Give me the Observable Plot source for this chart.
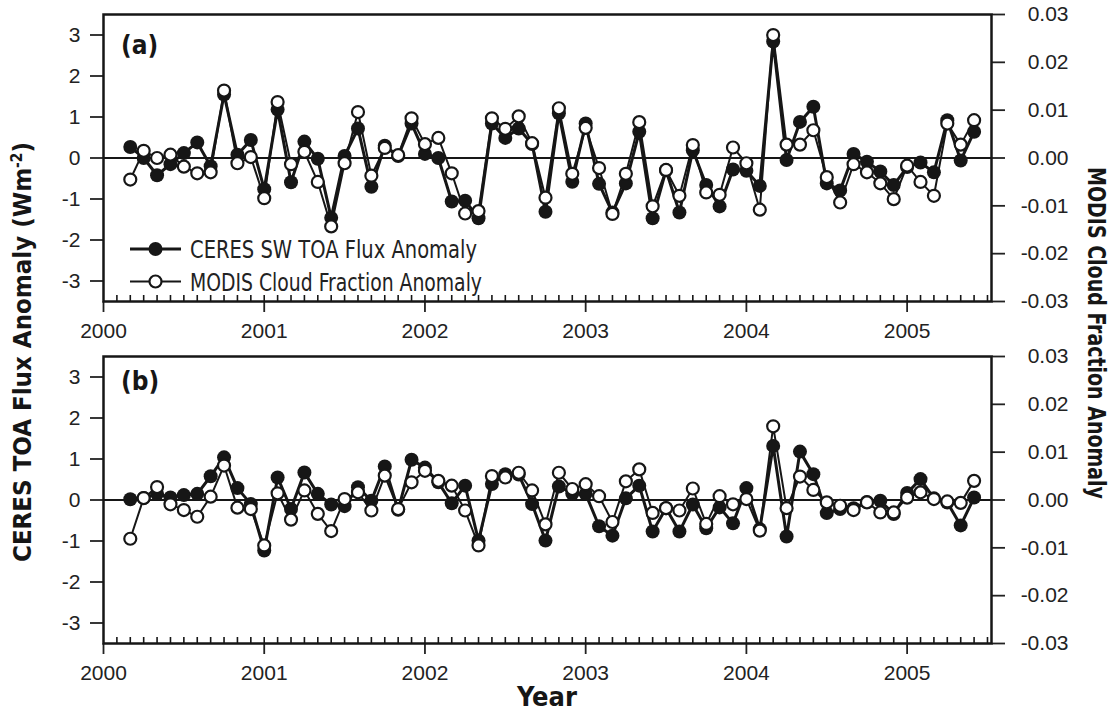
<!DOCTYPE html>
<html><head><meta charset="utf-8">
<script src="https://cdn.jsdelivr.net/npm/d3@7"></script>
<script src="https://cdn.jsdelivr.net/npm/@observablehq/plot@0.6"></script>
<style>
body{margin:0;background:#fff;}
#fig{position:relative;width:1117px;height:715px;overflow:hidden;background:#fff;}
#fig svg{position:absolute;left:0;overflow:visible;}
.cond{font-family:"Liberation Sans Narrow","DejaVu Sans Condensed","DejaVu Sans",sans-serif;font-stretch:condensed;}
</style></head><body><div id="fig"></div>
<script>
// ---- data ----
const startYear = 2000, startMonth = 3, nMonths = 64; // Mar 2000 .. Jun 2005
const yearTicks = [2000, 2001, 2002, 2003, 2004, 2005];
const fluxTicks = [-3, -2, -1, 0, 1, 2, 3];
const cloudTicks = [-0.03, -0.02, -0.01, 0, 0.01, 0.02, 0.03];
const seriesNames = ["CERES SW TOA Flux Anomaly", "MODIS Cloud Fraction Anomaly"];
const panelLabels = ["(a)", "(b)"];

// Panel (a): CERES SW TOA flux anomaly (W m-2)
const ceresA = [0.27,0.00,-0.42,-0.15,0.12,0.38,-0.20,1.55,0.08,0.44,
  -0.76,1.18,-0.59,0.40,-0.02,-1.46,0.05,0.72,-0.70,0.30,
  0.05,0.84,0.10,0.00,-1.06,-1.04,-1.47,0.84,0.49,0.72,
  0.34,-1.31,1.09,-0.58,0.84,-0.63,-1.33,-0.62,0.64,-1.47,
  -0.30,-1.33,0.19,-0.66,-1.18,-0.28,-0.31,-0.68,2.84,-0.05,
  0.88,1.25,-0.62,-0.79,0.10,-0.09,-0.33,-0.66,-0.22,-0.11,
  -0.35,0.92,-0.06,0.64];
// Panel (a): MODIS cloud fraction anomaly
const modisA = [-0.0045,0.0015,0.0000,0.0007,-0.0018,-0.0032,-0.0030,0.0141,-0.0011,0.0002,
  -0.0084,0.0117,-0.0013,0.0013,-0.0050,-0.0143,-0.0011,0.0096,-0.0037,0.0021,
  0.0006,0.0083,0.0029,0.0042,-0.0032,-0.0116,-0.0111,0.0083,0.0061,0.0087,
  0.0031,-0.0083,0.0104,-0.0033,0.0063,-0.0021,-0.0117,-0.0033,0.0075,-0.0101,
  -0.0025,-0.0079,0.0027,-0.0072,-0.0077,0.0022,-0.0011,-0.0108,0.0257,0.0028,
  0.0028,0.0058,-0.0040,-0.0093,-0.0013,-0.0030,-0.0053,-0.0086,-0.0016,-0.0050,
  -0.0079,0.0072,0.0028,0.0079];
// Panel (b): CERES TOA flux anomaly (W m-2)
const ceresB = [0.02,0.05,0.15,0.06,0.12,0.15,0.58,1.04,0.29,-0.10,
  -1.23,0.55,-0.22,0.67,0.15,-0.11,-0.15,0.31,-0.02,0.82,
  -0.24,0.98,0.79,0.43,-0.08,0.35,-0.99,0.39,0.63,0.62,
  -0.10,-0.99,0.33,0.16,0.15,-0.64,-0.87,0.04,0.35,-0.77,
  -0.20,-0.77,-0.11,-0.69,-0.18,-0.57,0.29,-0.71,1.32,-0.89,
  1.18,0.63,-0.32,-0.22,-0.20,-0.05,-0.02,-0.34,0.17,0.51,
  0.04,-0.06,-0.62,0.06];
// Panel (b): MODIS cloud fraction anomaly
const modisB = [-0.0081,0.0004,0.0027,-0.0009,-0.0021,-0.0035,0.0007,0.0072,-0.0016,-0.0019,
  -0.0095,0.0014,-0.0041,0.0020,-0.0029,-0.0065,0.0002,0.0016,-0.0022,0.0051,
  -0.0019,0.0037,0.0061,0.0040,0.0030,-0.0022,-0.0095,0.0050,0.0047,0.0057,
  0.0020,-0.0051,0.0057,0.0023,0.0033,0.0008,-0.0046,0.0039,0.0064,-0.0027,
  -0.0017,-0.0022,0.0024,-0.0050,0.0008,-0.0009,0.0002,-0.0064,0.0154,-0.0017,
  0.0049,0.0021,-0.0005,-0.0012,-0.0021,-0.0005,-0.0026,-0.0026,0.0005,0.0016,
  0.0002,-0.0003,-0.0006,0.0040];

// ---- layout ----
const months = d3.range(nMonths).map(i => startYear + (startMonth - 1 + i) / 12);
const minorTicks = d3.range(1, 67).map(m => 2000 + m / 12);
const fluxMax = 3.5, cloudMax = 0.03;
const K = fluxMax / cloudMax; // cloud fraction -> left-axis units
const innerH = 287;
const ink = "#161616";
const fmtFlux = d => (d < 0 ? "-" : "") + Math.abs(d);
const fmtCF = d => { const r = Math.round(d * 100) / 100; return (r < 0 ? "-" : "") + Math.abs(r).toFixed(2); };

function panel(ceres, modis) {
  const rows = months.map((t, i) => ({t, ceres: ceres[i], modis: modis[i] * K}));
  return Plot.plot({
    width: 1117, height: 14 + innerH + 48,
    marginLeft: 103, marginRight: 126, marginTop: 14, marginBottom: 48,
    style: {background: "transparent", fontFamily: "'Liberation Sans', Arial, sans-serif", color: "#222", overflow: "visible"},
    x: {domain: [2000, 2005.525], label: null},
    y: {domain: [-fluxMax, fluxMax], label: null},
    marks: [
      Plot.ruleY([0], {stroke: ink, strokeWidth: 2}),
      Plot.ruleX(minorTicks, {x: d => d, insetTop: innerH - 6, stroke: ink, strokeWidth: 1.6}),
      Plot.line(rows, {x: "t", y: "ceres", stroke: ink, strokeWidth: 3}),
      Plot.line(rows, {x: "t", y: "modis", stroke: ink, strokeWidth: 2}),
      Plot.dot(rows, {x: "t", y: "ceres", r: 7, fill: ink, stroke: "none"}),
      Plot.dot(rows, {x: "t", y: "modis", r: 6, fill: "white", stroke: ink, strokeWidth: 2.2}),
      Plot.axisX({ticks: yearTicks, tickFormat: d => String(d), tickSize: 11, tickPadding: 11, fontSize: 21, strokeWidth: 1.8, label: null}),
      Plot.axisY({ticks: fluxTicks, tickFormat: fmtFlux, tickSize: 13, tickPadding: 10, fontSize: 21, strokeWidth: 1.8, label: null}),
      Plot.axisY({anchor: "right", ticks: cloudTicks.map(c => c * K), tickFormat: d => fmtCF(d / K), tickSize: 13, tickPadding: 64, textAnchor: "end", fontSize: 21, strokeWidth: 1.8, label: null}),
      Plot.frame({stroke: ink, strokeWidth: 2.5})
    ]
  });
}

const fig = d3.select("#fig");
const pa = panel(ceresA, modisA); pa.style.top = "0px"; fig.node().appendChild(pa);
const pb = panel(ceresB, modisB); pb.style.top = "342px"; fig.node().appendChild(pb);

// ---- overlay: titles, panel labels, legend ----
const ov = fig.append("svg").attr("width", 1117).attr("height", 715).style("top", "0px").style("pointer-events", "none");
const boldText = (sel) => sel.attr("class", "cond").attr("font-weight", "bold").attr("fill", ink);

boldText(ov.append("text")).attr("x", 121).attr("y", 54).attr("font-size", 26).text(panelLabels[0]);
boldText(ov.append("text")).attr("x", 121).attr("y", 390).attr("font-size", 26).text(panelLabels[1]);

const lt = boldText(ov.append("text")).attr("transform", "translate(31,352) rotate(-90)")
  .attr("text-anchor", "middle").attr("font-size", 25)
  .attr("textLength", 420).attr("lengthAdjust", "spacingAndGlyphs");
lt.append("tspan").text("CERES TOA Flux Anomaly (Wm");
lt.append("tspan").attr("font-size", 15).attr("dy", -9).text("-2");
lt.append("tspan").attr("dy", 9).text(")");

boldText(ov.append("text")).attr("transform", "translate(1088,333) rotate(90)")
  .attr("text-anchor", "middle").attr("font-size", 25)
  .attr("textLength", 332).attr("lengthAdjust", "spacingAndGlyphs")
  .text("MODIS Cloud Fraction Anomaly");

boldText(ov.append("text")).attr("x", 547).attr("y", 706).attr("text-anchor", "middle").attr("font-size", 27).text("Year");

// legend
const lg = [{y: 249, filled: true, w: 3, len: 287}, {y: 281.5, filled: false, w: 2, len: 292}];
lg.forEach((d, i) => {
  ov.append("line").attr("x1", 130).attr("x2", 181).attr("y1", d.y).attr("y2", d.y).attr("stroke", ink).attr("stroke-width", d.w);
  ov.append("circle").attr("cx", 155.5).attr("cy", d.y).attr("r", d.filled ? 7 : 6)
    .attr("fill", d.filled ? ink : "white").attr("stroke", d.filled ? "none" : ink).attr("stroke-width", 2.2);
  ov.append("text").attr("class", "cond").attr("x", 190).attr("y", d.y + 9).attr("font-size", 24).attr("fill", "#222")
    .attr("textLength", d.len).attr("lengthAdjust", "spacingAndGlyphs").text(seriesNames[i]);
});
</script></body></html>
